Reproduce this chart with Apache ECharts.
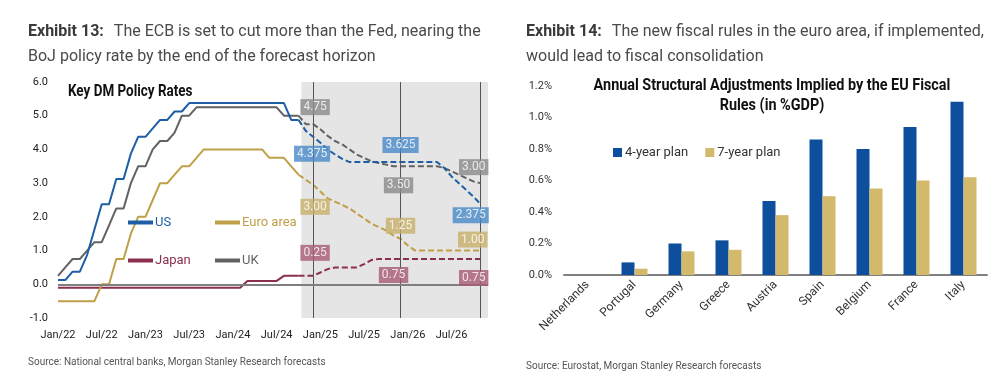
<!DOCTYPE html>
<html><head><meta charset="utf-8">
<script src="https://cdn.jsdelivr.net/npm/echarts@6/dist/echarts.min.js"></script>
<style>html,body{margin:0;padding:0;background:#fff}#c{width:1002px;height:379px}</style>
</head><body><div id="c"></div>
<script>
// ---------- Exhibit 13 data (monthly, index 0 = Jan/22) ----------
const monthTicks = ['Jan/22','Jul/22','Jan/23','Jul/23','Jan/24','Jul/24','Jan/25','Jul/25','Jan/26','Jul/26'];
const axisEndMonth = 'Dec/26';
const forecastStartMonth = 'Oct/24';
const markerMonths = ['Dec/24','Dec/25','Nov/26'];

const usHist = [0.125,0.125,0.375,0.375,0.875,1.625,2.375,2.375,3.125,3.125,3.875,4.375,
  4.375,4.625,4.875,4.875,5.125,5.125,5.375,5.375,5.375,5.375,5.375,5.375,
  5.375,5.375,5.375,5.375,5.375,5.375,5.375,5.375,4.875,4.875];
const usFcst = [4.875,4.55,4.375,4.2,4.0,3.85,3.72,3.625,
  3.625,3.625,3.625,3.625,3.625,3.625,3.625,3.625,3.625,3.625,3.625,3.625,
  3.45,3.2,3.0,2.8,2.6,2.375];

const ukHist = [0.25,0.5,0.75,0.75,1.0,1.25,1.25,1.75,2.25,2.25,3.0,3.5,
  3.5,4.0,4.25,4.25,4.5,5.0,5.0,5.25,5.25,5.25,5.25,5.25,
  5.25,5.25,5.25,5.25,5.25,5.25,5.25,5.0,5.0,5.0];
const ukFcst = [5.0,4.75,4.75,4.6,4.4,4.25,4.15,4.0,3.85,3.75,3.65,3.6,3.55,3.5,
  3.5,3.5,3.5,3.5,3.5,3.5,3.45,3.35,3.25,3.15,3.05,3.0];

const euroHist = [-0.5,-0.5,-0.5,-0.5,-0.5,-0.5,0.0,0.0,0.75,0.75,1.5,2.0,
  2.0,2.5,3.0,3.0,3.25,3.5,3.5,3.75,4.0,4.0,4.0,4.0,
  4.0,4.0,4.0,4.0,4.0,3.75,3.75,3.75,3.5,3.25];
const euroFcst = [3.25,3.1,2.95,2.75,2.55,2.45,2.35,2.25,2.1,1.95,1.8,1.7,1.6,1.45,1.35,1.15,1.0,
  1.0,1.0,1.0,1.0,1.0,1.0,1.0,1.0,1.0];

const japanHist = [-0.1,-0.1,-0.1,-0.1,-0.1,-0.1,-0.1,-0.1,-0.1,-0.1,-0.1,-0.1,
  -0.1,-0.1,-0.1,-0.1,-0.1,-0.1,-0.1,-0.1,-0.1,-0.1,-0.1,-0.1,
  -0.1,-0.1,0.1,0.1,0.1,0.1,0.1,0.25,0.25,0.25];
const japanFcst = [0.25,0.25,0.25,0.35,0.45,0.5,0.5,0.5,0.5,0.6,0.72,
  0.75,0.75,0.75,0.75,0.75,0.75,0.75,0.75,0.75,0.75,0.75,0.75,0.75,0.75,0.75];

const usLabels = ['4.375','3.625','2.375'];
const ukLabels = ['4.75','3.50','3.00'];
const euroLabels = ['3.00','1.25','1.00'];
const japanLabels = ['0.25','0.75','0.75'];

// ---------- Exhibit 14 data ----------
const countries = ['Netherlands','Portugal','Germany','Greece','Austria','Spain','Belgium','France','Italy'];
const plan4 = [0, 0.08, 0.20, 0.22, 0.47, 0.86, 0.80, 0.94, 1.10];
const plan7 = [0, 0.04, 0.15, 0.16, 0.38, 0.50, 0.55, 0.60, 0.62];

// ---------- styles ----------
const MON = ['Jan','Feb','Mar','Apr','May','Jun','Jul','Aug','Sep','Oct','Nov','Dec'];
function mIdx(s){ const [m,y]=s.split('/'); return (parseInt(y,10)-22)*12 + MON.indexOf(m); }
const fStart = mIdx(forecastStartMonth);
const markerIdx = markerMonths.map(mIdx);

const C = {us:'#1d5ea6', uk:'#626262', euro:'#bf9f47', japan:'#8a2f50'};
const BOX = {us:'#4a89c8', uk:'#8a8a8a', euro:'#c8b06b', japan:'#a85a74'};
const OFFS = {
  uk:[[2,-17],[-2,19],[-7,-16]],
  us:[[-1,17],[0,-17],[-10,11]],
  euro:[[2,22],[0,-13],[-8,-11]],
  japan:[[2,-23],[-7,16],[-7,19]]
};
const FONT = 'Roboto';

const hist = (arr) => arr.map((v,i)=>[i,v]);
const fc = (arr) => arr.map((v,i)=>[fStart+i,v]);

function lineSeries(name, data, color, dashed){
  return {type:'line', name, xAxisIndex:0, yAxisIndex:0, data, symbol:'none', silent:true,
    lineStyle:{color, width:2, type: dashed ? [6,3] : 'solid'}, itemStyle:{color}, z:3};
}
function labelSeries(key, fcArr, texts){
  return {type:'scatter', xAxisIndex:0, yAxisIndex:0, symbolSize:0, silent:true, z:5,
    data: markerIdx.map((m,k)=>({value:[m, fcArr[m-fStart]], label:{offset:OFFS[key][k]}, txt:texts[k]})),
    label:{show:true, position:'inside', formatter:(p)=>p.data.txt, color:'#fff', fontFamily:FONT,
      fontSize:12, lineHeight:13, padding:[2,3,1,3], backgroundColor:BOX[key]}};
}
function legendOne(name, color, left, top){
  return {data:[name], left, top, icon:'rect', itemWidth:25, itemHeight:4, padding:0, itemGap:0,
    selectedMode:false, textStyle:{color, fontSize:13, fontFamily:FONT, padding:[0,0,0,-3]}};
}
const headRich = {
  b:{fontFamily:FONT,fontWeight:'bold',fontSize:16,color:'#3a3a3a',lineHeight:25},
  n:{fontFamily:FONT,fontWeight:'normal',fontSize:16,color:'#4a4a4a',lineHeight:25}
};

const option = {
  animation:false,
  backgroundColor:'#fff',
  title:[
    {left:28, top:19, padding:0, text:'{b|Exhibit 13:}  {n|The ECB is set to cut more than the Fed, nearing the}\n{n|BoJ policy rate by the end of the forecast horizon}',
      textStyle:{fontWeight:'normal', rich:headRich}},
    {left:526, top:19, padding:0, text:'{b|Exhibit 14:}  {n|The new fiscal rules in the euro area, if implemented,}\n{n|would lead to fiscal consolidation}',
      textStyle:{fontWeight:'normal', rich:headRich}},
    {left:28, top:357, padding:0, text:'Source: National central banks, Morgan Stanley Research forecasts', textStyle:{fontFamily:FONT, fontSize:10, fontWeight:'normal', color:'#555'}},
    {left:526, top:361, padding:0, text:'Source: Eurostat, Morgan Stanley Research forecasts', textStyle:{fontFamily:FONT, fontSize:10, fontWeight:'normal', color:'#555'}}
  ],
  graphic:[
    {type:'text', x:68, y:84, scaleX:0.84, silent:true,
      style:{text:'Key DM Policy Rates', fontFamily:FONT, fontWeight:'bold', fontSize:16, fill:'#111'}},
    {type:'text', x:772, y:76, scaleX:0.9, silent:true,
      style:{text:'Annual Structural Adjustments Implied by the EU Fiscal\nRules (in %GDP)', align:'center',
        fontFamily:FONT, fontWeight:'bold', fontSize:16, lineHeight:20, fill:'#111'}}
  ],
  legend:[
    legendOne('US', C.us, 128, 216),
    legendOne('Euro area', C.euro, 215, 216),
    legendOne('Japan', C.japan, 128, 254),
    legendOne('UK', C.uk, 215, 254),
    {data:['4-year plan','7-year plan'], left:613, top:146, icon:'rect', itemWidth:9, itemHeight:9, itemGap:17, padding:0,
      selectedMode:false, textStyle:{color:'#333', fontSize:13, fontFamily:FONT, padding:[0,0,0,-2]}}
  ],
  grid:[
    {left:58, right:1002-488, top:82, bottom:61},
    {left:564, right:15, top:86, bottom:104}
  ],
  xAxis:[
    {type:'value', gridIndex:0, min:0, max:mIdx(axisEndMonth), interval:6,
      axisLine:{show:false}, axisTick:{show:false}, splitLine:{show:false},
      axisLabel:{margin:12, fontFamily:FONT, fontSize:11, color:'#222',
        formatter:(v)=> (v%6===0 && monthTicks[v/6]) ? monthTicks[v/6] : ''}},
    {type:'category', gridIndex:1, data:countries,
      axisLine:{lineStyle:{color:'#808080', width:2}}, axisTick:{show:false},
      axisLabel:{rotate:45, interval:0, margin:8, fontFamily:FONT, fontSize:12, color:'#333'}}
  ],
  yAxis:[
    {type:'value', gridIndex:0, min:-1, max:6, interval:1,
      axisLine:{show:false}, axisTick:{show:false}, splitLine:{show:false},
      axisLabel:{margin:10, fontFamily:FONT, fontSize:11, color:'#222', formatter:(v)=>v.toFixed(1)}},
    {type:'value', gridIndex:1, min:0, max:1.2, interval:0.2,
      axisLine:{show:false}, axisTick:{show:false}, splitLine:{show:false},
      axisLabel:{margin:12, fontFamily:FONT, fontSize:11, color:'#333', formatter:(v)=>v.toFixed(1)+'%'}}
  ],
  series:[
    {type:'line', name:'_bg', xAxisIndex:0, yAxisIndex:0, data:hist(japanHist), symbol:'none', silent:true, z:1,
      lineStyle:{opacity:0},
      markArea:{silent:true, itemStyle:{color:'#e5e5e5'}, data:[[{xAxis:fStart+0.4},{xAxis:mIdx(axisEndMonth)}]]},
      markLine:{silent:true, symbol:['none','none'], label:{show:false},
        lineStyle:{color:'#555', width:1, type:'solid'},
        data:[...markerIdx.map(m=>({xAxis:m})), {yAxis:0, lineStyle:{color:'#7f7f7f', width:2, type:'solid'}}]}},
    lineSeries('Japan', hist(japanHist), C.japan, false),
    lineSeries('Japan', fc(japanFcst), C.japan, true),
    lineSeries('Euro area', hist(euroHist), C.euro, false),
    lineSeries('Euro area', fc(euroFcst), C.euro, true),
    lineSeries('UK', hist(ukHist), C.uk, false),
    lineSeries('UK', fc(ukFcst), C.uk, true),
    lineSeries('US', hist(usHist), C.us, false),
    lineSeries('US', fc(usFcst), C.us, true),
    labelSeries('uk', ukFcst, ukLabels),
    labelSeries('us', usFcst, usLabels),
    labelSeries('euro', euroFcst, euroLabels),
    labelSeries('japan', japanFcst, japanLabels),
    {type:'bar', name:'4-year plan', xAxisIndex:1, yAxisIndex:1, data:plan4, barWidth:13, barGap:'0%', itemStyle:{color:'#0d4f9d'}, silent:true},
    {type:'bar', name:'7-year plan', xAxisIndex:1, yAxisIndex:1, data:plan7, barWidth:13, barGap:'0%', itemStyle:{color:'#d3b96c'}, silent:true}
  ]
};
const chart = echarts.init(document.getElementById('c'), null, {renderer:'canvas'});
chart.setOption(option);
</script></body></html>
